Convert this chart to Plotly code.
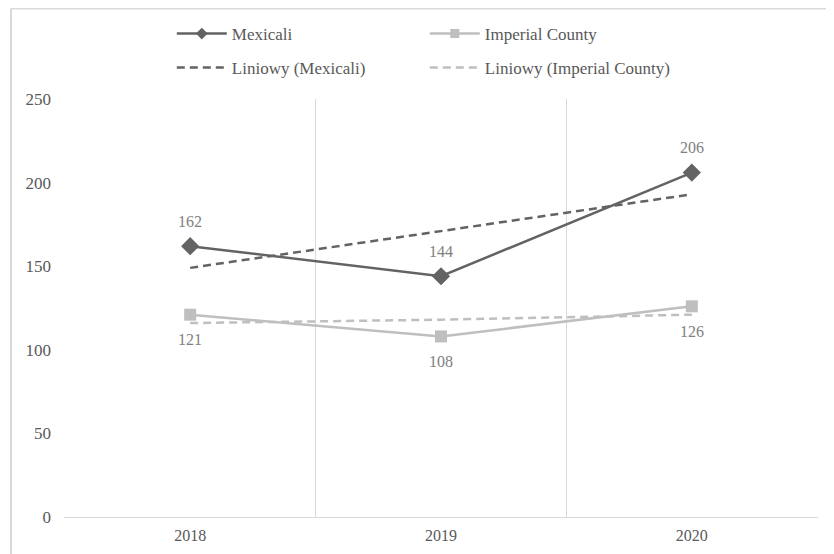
import plotly.graph_objects as go

years = ["2018", "2019", "2020"]
mexicali = [162, 144, 206]
imperial = [121, 108, 126]
trend_mexicali = [149, 171, 193]
trend_imperial = [116, 118, 121]

x = list(range(len(years)))
DARK = "#636363"
LIGHT = "#bfbfbf"
FONT = "Liberation Serif, Times New Roman, serif"

fig = go.Figure()
fig.add_trace(go.Scatter(
    x=x, y=mexicali, name="Mexicali", mode="lines+markers",
    line=dict(color=DARK, width=2.5),
    marker=dict(symbol="diamond", size=14, color=DARK),
    showlegend=False, cliponaxis=False))
fig.add_trace(go.Scatter(
    x=x, y=imperial, name="Imperial County", mode="lines+markers",
    line=dict(color=LIGHT, width=2.5),
    marker=dict(symbol="square", size=12, color=LIGHT),
    showlegend=False, cliponaxis=False))
fig.add_trace(go.Scatter(
    x=x, y=trend_mexicali, name="Liniowy (Mexicali)", mode="lines",
    line=dict(color=DARK, width=2.5, dash="8px,5px"), legend="legend2"))
fig.add_trace(go.Scatter(
    x=x, y=trend_imperial, name="Liniowy (Imperial County)", mode="lines",
    line=dict(color=LIGHT, width=2.5, dash="8px,5px"), legend="legend2"))
# legend entries for the data series (smaller legend markers, as in the reference)
fig.add_trace(go.Scatter(
    x=[None], y=[None], name="Mexicali", mode="lines+markers",
    line=dict(color=DARK, width=2.5),
    marker=dict(symbol="diamond", size=9, color=DARK), legend="legend"))
fig.add_trace(go.Scatter(
    x=[None], y=[None], name="Imperial County", mode="lines+markers",
    line=dict(color=LIGHT, width=2.5),
    marker=dict(symbol="square", size=9, color=LIGHT), legend="legend"))

annotations = []
for xi, v in zip(x, mexicali):
    annotations.append(dict(x=xi, y=v, text=str(v), showarrow=False,
                            yanchor="middle", yshift=25,
                            font=dict(family=FONT, size=16, color="#808080")))
for xi, v in zip(x, imperial):
    annotations.append(dict(x=xi, y=v, text=str(v), showarrow=False,
                            yanchor="middle", yshift=-25,
                            font=dict(family=FONT, size=16, color="#808080")))

legend_common = dict(orientation="h", xanchor="left", yanchor="middle",
                     xref="container", yref="container",
                     font=dict(family=FONT, size=17, color="#595959"),
                     entrywidth=188, entrywidthmode="pixels",
                     bgcolor="rgba(0,0,0,0)", itemwidth=50,
                     tracegroupgap=0)

fig.update_layout(
    width=834, height=554,
    margin=dict(l=56, r=24, t=91, b=45, autoexpand=False),
    paper_bgcolor="white", plot_bgcolor="white",
    font=dict(family=FONT, size=16, color="#595959"),
    legend=dict(x=0.1964, y=0.953, **legend_common),
    legend2=dict(x=0.1964, y=0.892, **legend_common),
    annotations=annotations,
    xaxis=dict(
        range=[-0.503, 2.503], tickmode="array", tickvals=x, ticktext=years,
        showgrid=False, zeroline=False,
        showline=True, linecolor="#d9d9d9", linewidth=1,
        ticks="", ticklabelstandoff=4,
        tickfont=dict(family=FONT, size=16, color="#595959"),
        minor=dict(tick0=-0.5, dtick=1, showgrid=True, gridcolor="#d9d9d9",
                   gridwidth=1, ticks=""),
    ),
    yaxis=dict(
        range=[0, 250], tickmode="linear", tick0=0, dtick=50,
        showgrid=False, zeroline=False, showline=False, ticks="",
        ticklabelstandoff=12,
        tickfont=dict(family=FONT, size=17, color="#595959"),
    ),
    shapes=[
        dict(type="line", xref="paper", yref="paper", x0=-0.0703, x1=1.2,
             y0=1.2165, y1=1.2165, line=dict(color="#d9d9d9", width=2)),
        dict(type="line", xref="paper", yref="paper", x0=-0.0703, x1=-0.0703,
             y0=-0.3, y1=1.2165, line=dict(color="#d9d9d9", width=2)),
    ],
)

fig.write_html("out.html")
